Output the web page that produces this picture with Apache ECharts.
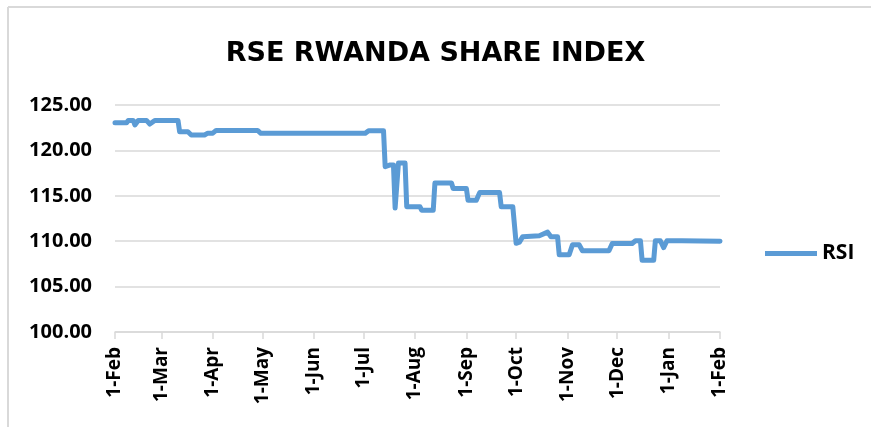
<!DOCTYPE html>
<html lang="en">
<head>
    <meta charset="UTF-8">
    <title>RSE Rwanda Share Index</title>
    <script src="https://cdn.jsdelivr.net/npm/echarts@6/dist/echarts.min.js"></script>
    <style>
        html, body { margin: 0; padding: 0; background: #fff; }
    </style>
</head>
<body>
<div id="main" style="width: 871px;height:427px;"></div>
<script>
    // dates of the break points of the index line
    var dates = [
        '2019-02-01', '2019-02-08', '2019-02-09', '2019-02-12', '2019-02-13', '2019-02-15',
        '2019-02-20', '2019-02-22', '2019-02-25', '2019-03-11', '2019-03-12', '2019-03-17',
        '2019-03-19', '2019-03-27', '2019-03-29', '2019-04-01', '2019-04-03', '2019-04-28',
        '2019-04-30', '2019-07-02', '2019-07-04', '2019-07-13', '2019-07-14', '2019-07-17',
        '2019-07-19', '2019-07-20', '2019-07-21', '2019-07-22', '2019-07-26', '2019-07-27',
        '2019-08-04', '2019-08-05', '2019-08-12', '2019-08-13', '2019-08-23', '2019-08-24',
        '2019-09-01', '2019-09-02', '2019-09-07', '2019-09-09', '2019-09-21', '2019-09-22',
        '2019-09-29', '2019-10-01', '2019-10-03', '2019-10-05', '2019-10-15', '2019-10-20',
        '2019-10-22', '2019-10-26', '2019-10-27', '2019-11-02', '2019-11-04', '2019-11-08',
        '2019-11-10', '2019-11-26', '2019-11-28', '2019-12-10', '2019-12-12', '2019-12-15',
        '2019-12-16', '2019-12-23', '2019-12-24', '2019-12-27', '2019-12-29', '2019-12-31',
        '2020-01-07', '2020-01-08', '2020-01-09', '2020-02-01'
    ];
    // RSI values at those dates
    var rsi = [
        123.05, 123.05, 123.3, 123.3, 122.8, 123.3,
        123.3, 122.9, 123.3, 123.3, 122.05, 122.05,
        121.7, 121.7, 121.9, 121.9, 122.2, 122.2,
        121.88, 121.88, 122.17, 122.17, 118.2, 118.4,
        118.4, 113.65, 113.65, 118.6, 118.6, 113.8,
        113.8, 113.4, 113.4, 116.4, 116.4, 115.8,
        115.8, 114.5, 114.5, 115.35, 115.35, 113.8,
        113.8, 109.77, 109.9, 110.5, 110.6, 111.0,
        110.5, 110.5, 108.5, 108.5, 109.6, 109.6,
        108.95, 108.95, 109.75, 109.75, 110.05, 110.05,
        107.9, 107.9, 110.05, 110.05, 109.3, 110.05,
        110.05, 109.85, 110.05, 110.0
    ];
    var yTicks = [100, 105, 110, 115, 120, 125];

    var font = '"Open Sans", "Liberation Sans", sans-serif';
    var points = [];
    for (var i = 0; i < dates.length; i++) {
        points.push([dates[i], rsi[i]]);
    }

    var chart = echarts.init(document.getElementById('main'));
    var option = {
        backgroundColor: '#fff',
        animation: false,
        title: {
            text: 'RSE RWANDA SHARE INDEX',
            left: 'center',
            top: 35,
            textStyle: {fontFamily: '"DejaVu Sans", sans-serif', fontWeight: 'bold', fontSize: 27, color: '#000'}
        },
        legend: {
            data: ['RSI'],
            left: 760,
            top: 238,
            itemWidth: 52,
            itemHeight: 5,
            icon: 'rect',
            itemGap: 4,
            textStyle: {fontFamily: font, fontWeight: 'bold', fontSize: 21, color: '#000'}
        },
        graphic: [
            {type: 'line', shape: {x1: 8, y1: 7, x2: 871, y2: 7}, style: {stroke: '#d9d9d9', lineWidth: 2}},
            {type: 'line', shape: {x1: 8, y1: 7, x2: 8, y2: 427}, style: {stroke: '#d9d9d9', lineWidth: 2}}
        ],
        grid: {left: 115, right: 151, top: 105, bottom: 95},
        xAxis: {
            type: 'time',
            min: dates[0],
            max: dates[dates.length - 1],
            splitNumber: 12,
            axisLine: {lineStyle: {color: '#d9d9d9', width: 1.5}},
            axisTick: {show: true, length: 7, lineStyle: {color: '#d9d9d9', width: 1.5}},
            splitLine: {show: false},
            axisLabel: {
                rotate: 90,
                showMinLabel: true,
                showMaxLabel: true,
                margin: 15,
                fontFamily: font,
                fontWeight: 'bold',
                fontSize: 19,
                color: '#000',
                formatter: function (v) {
                    return echarts.time.format(v, '{d}-{MMM}', false);
                }
            }
        },
        yAxis: {
            type: 'value',
            min: yTicks[0],
            max: yTicks[yTicks.length - 1],
            interval: 5,
            axisLine: {show: false},
            axisTick: {show: false},
            splitLine: {lineStyle: {color: '#d9d9d9', width: 1.5}},
            axisLabel: {
                margin: 23,
                fontFamily: font,
                fontWeight: 'bold',
                fontSize: 20,
                color: '#000',
                formatter: function (v) {
                    return v.toFixed(2);
                }
            }
        },
        series: [
            {
                name: 'RSI',
                type: 'line',
                data: points,
                symbol: 'none',
                lineStyle: {color: '#5b9bd5', width: 5, join: 'round', cap: 'round'},
                itemStyle: {color: '#5b9bd5'}
            }
        ]
    };
    chart.setOption(option);
</script>
</body>
</html>
